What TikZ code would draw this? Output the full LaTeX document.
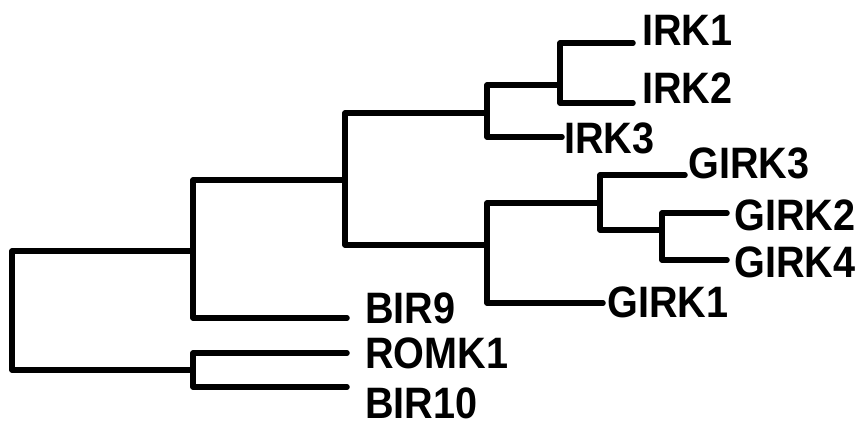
\documentclass[tikz,border=0pt]{standalone}
\usepackage{fontspec}
\setmainfont{Liberation Sans}
\newfontfamily\lblfont[FakeStretch=0.9,BoldFeatures={FakeStretch=0.9}]{Liberation Sans}
\begin{document}
\begin{tikzpicture}[x=1pt,y=-1pt,
  branch/.style={line width=5.5pt,line cap=round,line join=round},
  leaflabel/.style={anchor=base west,inner sep=0pt,font=\lblfont\fontsize{44}{44}\selectfont\bfseries}]
\useasboundingbox (0,0) rectangle (867,429);
% internal nodes (x of vertical bar, y where the parent branch enters)
\coordinate (root) at (12,310);
\coordinate (n1) at (193,251);
\coordinate (n2) at (193,370);
\coordinate (n3) at (345,180);
\coordinate (n4) at (487,113);
\coordinate (n5) at (560,85);
\coordinate (n6) at (487,245);
\coordinate (n7) at (600,203);
\coordinate (n8) at (662,230);
% leaf ends
\coordinate (l1) at (633,43);
\coordinate (l2) at (633,103);
\coordinate (l3) at (562,137);
\coordinate (l4) at (685,175);
\coordinate (l5) at (727,213);
\coordinate (l6) at (727,260);
\coordinate (l7) at (603,303);
\coordinate (l8) at (347,318);
\coordinate (l9) at (347,353);
\coordinate (l10) at (347,387);
% labels
\node[leaflabel] (t1) at (642,45) {IRK1};
\node[leaflabel] (t2) at (642,103) {IRK2};
\node[leaflabel] (t3) at (564,153) {IRK3};
\node[leaflabel] (t4) at (688,178) {GIRK3};
\node[leaflabel] (t5) at (734,230) {GIRK2};
\node[leaflabel] (t6) at (734,277) {GIRK4};
\node[leaflabel] (t7) at (607,317) {GIRK1};
\node[leaflabel] (t8) at (365,323) {BIR9};
\node[leaflabel] (t9) at (365,368) {ROMK1};
\node[leaflabel] (t10) at (365,418) {BIR10};
% branches
\draw[branch] (n1) -| (root) |- (n2);
\draw[branch] (n3) -| (n1) |- (l8);
\draw[branch] (l9) -| (n2) |- (l10);
\draw[branch] (n4) -| (n3) |- (n6);
\draw[branch] (n5) -| (n4) |- (l3);
\draw[branch] (l1) -| (n5) |- (l2);
\draw[branch] (n7) -| (n6) |- (l7);
\draw[branch] (l4) -| (n7) |- (n8);
\draw[branch] (l5) -| (n8) |- (l6);
\end{tikzpicture}
\end{document}
